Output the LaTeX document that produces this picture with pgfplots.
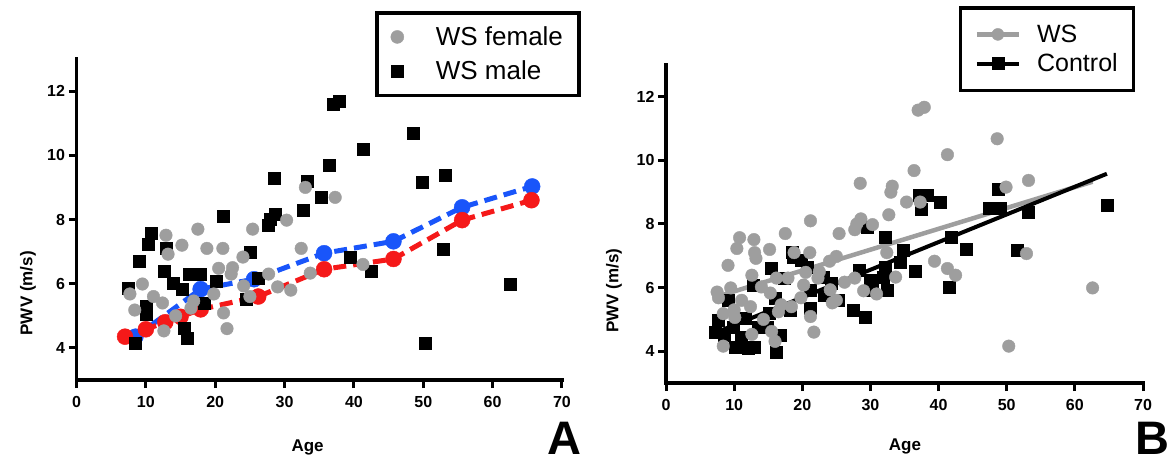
\documentclass[border=0pt]{standalone}
\usepackage{fontspec}
\setmainfont{Liberation Sans}
\usepackage{pgfplots}
\usepackage{pgfplotstable}
\pgfplotsset{compat=1.18}
\definecolor{wsgray}{RGB}{158,158,158}
\definecolor{mblue}{RGB}{25,85,250}
\definecolor{mred}{RGB}{245,25,25}

\pgfplotstableread{
x y
33.0 9.00
37.3 8.69
30.3 7.98
25.4 7.70
17.5 7.70
12.9 7.51
15.2 7.20
18.8 7.10
21.1 7.10
13.2 6.92
24.0 6.83
32.4 7.10
20.5 6.48
22.5 6.50
22.3 6.30
9.5 5.99
7.7 5.68
11.1 5.60
12.4 5.40
8.4 5.18
14.3 5.00
16.9 5.46
16.5 5.24
19.8 5.68
21.2 5.09
21.7 4.60
12.6 4.53
24.1 5.93
25.0 5.60
27.7 6.30
29.0 5.90
30.9 5.80
33.7 6.33
41.3 6.60
}\female

\pgfplotstableread{
x y
37.0 11.58
37.9 11.67
41.3 10.18
36.4 9.68
28.5 9.28
33.2 9.19
35.3 8.69
32.7 8.29
21.2 8.10
28.6 8.16
28.0 8.00
27.7 7.82
10.8 7.57
10.4 7.23
13.0 7.10
25.0 6.98
9.1 6.70
39.4 6.83
48.6 10.68
49.9 9.16
53.2 9.37
52.9 7.07
42.5 6.39
62.6 5.99
50.3 4.16
12.6 6.39
14.0 6.02
15.3 5.83
16.2 6.30
17.9 6.30
20.2 6.08
7.5 5.86
10.0 5.30
10.1 5.06
18.4 5.40
24.4 5.52
26.2 6.17
15.5 4.62
16.0 4.31
8.4 4.16
}\male

\pgfplotstableread{
x y
7.2 4.60
7.6 4.98
8.6 4.50
9.8 4.76
10.1 4.13
11.1 4.44
12.0 4.09
13.0 4.13
11.6 5.04
9.1 5.60
12.8 6.08
15.5 6.60
13.5 4.76
14.8 4.76
16.7 4.50
16.1 3.97
15.2 5.20
18.6 6.97
19.9 6.87
20.7 6.65
18.5 7.10
17.4 6.30
16.0 5.67
18.2 5.29
21.1 5.36
21.1 5.92
23.2 5.77
23.0 6.33
24.3 6.13
25.2 5.60
27.4 5.29
29.2 5.07
28.4 6.55
29.9 6.24
30.2 5.92
31.8 6.33
32.1 7.60
29.5 7.90
32.4 5.92
32.1 6.65
34.8 7.19
34.3 6.81
36.5 6.50
37.2 8.92
38.4 8.92
37.5 8.45
40.2 8.70
41.9 7.60
44.1 7.22
41.6 6.02
47.5 8.51
49.0 8.51
48.7 9.08
51.5 7.19
53.1 8.38
64.7 8.60
}\control

\pgfplotsset{
  panel/.style={
    scale only axis, clip=false,
    xmin=0, xmax=70, ymin=3, ymax=13,
    axis lines=left,
    axis line style={-, line width=3.5pt, line cap=rect},
    xtick={0,10,...,70}, ytick={4,6,8,10,12},
    tick align=outside, major tick length=8pt,
    tick style={line width=3pt, black},
    /pgf/number format/assume math mode=true,
    ticklabel style={font=\fontsize{16}{16}\selectfont\bfseries},
    xticklabel style={yshift=-5pt},
    label style={font=\fontsize{17}{17}\selectfont\bfseries},
    legend cell align=left,
  }
}

\begin{document}
\begin{tikzpicture}
\useasboundingbox (0,0) rectangle (1175pt,466pt);

% Panel A
\begin{axis}[panel,
  at={(76.5pt,86pt)}, anchor=south west, width=485.5pt, height=321pt,
  xlabel={Age}, ylabel={PWV (m/s)},
  xlabel style={at={(axis description cs:0.476,-0.21)}, anchor=center},
  ylabel style={at={(axis description cs:-0.1,0.27)}, anchor=center},
  legend style={at={(axis description cs:0.615,1.1495)}, anchor=north west,
    draw=black, line width=3.5pt, font=\fontsize{26}{30}\selectfont,
    inner xsep=14pt, inner ysep=12pt, row sep=10pt,
    /tikz/every odd column/.append style={column sep=30pt}},
]
\addlegendimage{only marks, mark=*, mark size=6.5pt, color=wsgray, line width=0.4pt}
\addlegendentry{WS female}
\addlegendimage{only marks, mark=square*, mark size=6pt, color=black, line width=0.4pt}
\addlegendentry{WS male}

\addplot[forget plot, color=mblue, line width=5pt, dash pattern=on 13pt off 7pt,
  mark=*, mark size=8pt, mark options={solid, line width=0.4pt}]
  coordinates {(8.5,4.35) (17.9,5.83) (25.6,6.14) (35.7,6.95) (45.7,7.32) (55.6,8.38) (65.7,9.03)};
\addplot[forget plot, color=mred, line width=5pt, dash pattern=on 13pt off 7pt,
  mark=*, mark size=8pt, mark options={solid, line width=0.4pt}]
  coordinates {(7.0,4.35) (10.0,4.58) (12.8,4.80) (15.0,4.97) (17.9,5.20) (26.2,5.60) (35.7,6.45) (45.7,6.77) (55.6,7.98) (65.6,8.60)};

\addplot[forget plot, only marks, mark=square*, mark size=6pt, color=black, line width=0.4pt] table {\male};
\addplot[forget plot, only marks, mark=*, mark size=6.3pt, color=wsgray, line width=0.4pt] table {\female};

\node[font=\fontsize{47}{47}\selectfont\bfseries, inner sep=0pt, anchor=base] at (axis description cs:1.006,-0.2336) {A};
\end{axis}

% Panel B
\begin{axis}[panel,
  at={(666pt,83pt)}, anchor=south west, width=477pt, height=318pt,
  xlabel={Age}, ylabel={PWV (m/s)},
  xlabel style={at={(axis description cs:0.501,-0.2)}, anchor=center},
  ylabel style={at={(axis description cs:-0.109,0.29)}, anchor=center},
  legend style={at={(axis description cs:0.614,1.185)}, anchor=north west,
    draw=black, line width=3.5pt, font=\fontsize{25}{29}\selectfont,
    inner xsep=14pt, inner ysep=15pt, row sep=6pt,
    /tikz/every odd column/.append style={column sep=14pt}},
  legend image code/.code={\draw[mark repeat=2,mark phase=2] plot coordinates {(0pt,0pt) (21pt,0pt) (42pt,0pt)};},
]
\addlegendimage{color=wsgray, line width=4.5pt, mark=*, mark size=6pt, mark options={line width=0.4pt}}
\addlegendentry{WS}
\addlegendimage{color=black, line width=4pt, mark=square*, mark size=6pt, mark options={line width=0.4pt}}
\addlegendentry{Control}

\addplot[forget plot, only marks, mark=square*, mark size=6pt, color=black, line width=0.4pt] table {\control};
\addplot[forget plot, only marks, mark=*, mark size=6.3pt, color=wsgray, line width=0.4pt] table {\male};
\addplot[forget plot, only marks, mark=*, mark size=6.3pt, color=wsgray, line width=0.4pt] table {\female};

\addplot[forget plot, color=wsgray, line width=4.5pt] coordinates {(8.0,5.75) (62.6,9.33)};
\addplot[forget plot, color=black, line width=4pt] coordinates {(7.0,4.56) (64.7,9.58)};

\node[font=\fontsize{47}{47}\selectfont\bfseries, inner sep=0pt, anchor=base] at (axis description cs:1.019,-0.2264) {B};
\end{axis}
\end{tikzpicture}
\end{document}
